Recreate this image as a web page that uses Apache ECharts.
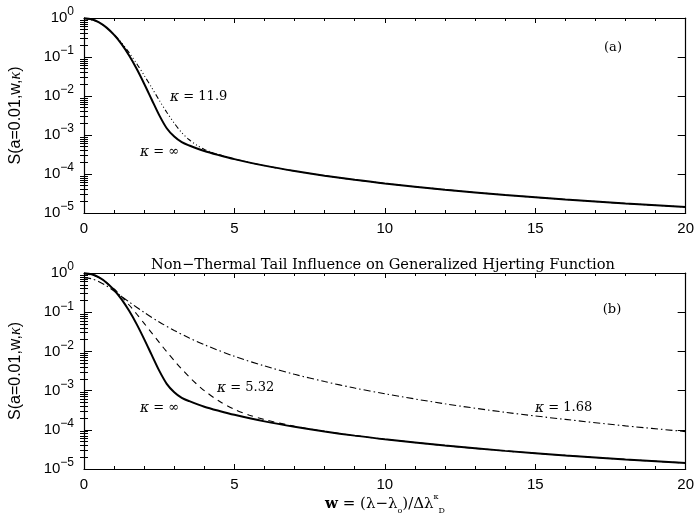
<!DOCTYPE html>
<html><head><meta charset="utf-8">
<script src="https://cdn.jsdelivr.net/npm/echarts@6/dist/echarts.min.js"></script>
<style>html,body{margin:0;padding:0;background:#fff}#c{width:697px;height:516px}</style>
</head><body><div id="c"></div>
<script>
// kappa = infinity (Voigt, a = 0.01)
const wInf = [0, 0.25, 0.5, 0.75, 1, 1.25, 1.5, 1.75, 2, 2.25, 2.5, 2.75, 3, 3.25, 3.5, 4, 4.5, 5, 6, 7, 8, 9, 10, 12, 14, 16, 18, 20];
const sInf = [0.989, 0.930, 0.772, 0.567, 0.369, 0.213, 0.1086, 0.0497, 0.0206, 0.00813, 0.00323, 0.00149, 0.00091, 0.000654, 0.000537, 0.000388, 0.000302, 0.000241, 0.000164, 0.000119, 0.0000903, 0.0000710, 0.0000573, 0.0000396, 0.0000290, 0.0000222, 0.0000175, 0.0000142];
// kappa = 11.9 (panel a)
const wK119 = [0, 0.5, 1, 1.25, 1.5, 1.75, 2, 2.25, 2.5, 2.75, 3, 3.25, 3.5, 3.75, 4, 4.5, 5, 6, 7, 8, 9, 10, 12, 14, 16, 18, 20];
const sK119 = [0.978, 0.766, 0.380, 0.231, 0.129, 0.068, 0.0338, 0.0164, 0.0078, 0.00384, 0.00201, 0.00115, 0.000755, 0.000545, 0.000427, 0.000309, 0.000242, 0.000164, 0.000119, 0.0000903, 0.0000710, 0.0000573, 0.0000396, 0.0000290, 0.0000222, 0.0000175, 0.0000142];
// kappa = 5.32 (panel b)
const wK532 = [0, 0.5, 1, 1.25, 1.5, 1.75, 2, 2.25, 2.5, 2.75, 3, 3.25, 3.5, 3.75, 4, 4.5, 5, 5.5, 6, 7, 8, 9, 10, 12, 14, 16, 18, 20];
const sK532 = [0.966, 0.759, 0.391, 0.250, 0.1527, 0.090, 0.0518, 0.0297, 0.0170, 0.0098, 0.00582, 0.00353, 0.00223, 0.00146, 0.000995, 0.000533, 0.000334, 0.000236, 0.000182, 0.000123, 0.0000915, 0.0000712, 0.0000574, 0.0000396, 0.0000290, 0.0000222, 0.0000175, 0.0000142];
// kappa = 1.68 (panel b)
const wK168 = [0, 0.25, 0.5, 0.75, 1, 1.25, 1.5, 2, 2.5, 3, 3.5, 4, 5, 6, 7, 8, 9, 10, 12, 14, 16, 18, 20];
const sK168 = [0.750, 0.715, 0.602, 0.468, 0.347, 0.252, 0.183, 0.0985, 0.0564, 0.0343, 0.0220, 0.0148, 0.0075, 0.00425, 0.00260, 0.00170, 0.00116, 0.00083, 0.00046, 0.00028, 0.000184, 0.000126, 0.000090];

const xRange = [0, 20];
const yRange = [1e-5, 1];

const zip = (w, s) => w.map((x, i) => [x, s[i]]);
const minorVals = [];
for (let e = -5; e < 0; e++) for (let k = 2; k <= 9; k++) minorVals.push(Number((k * Math.pow(10, e)).toPrecision(3)));

const grids = [
  {left: 79, top: 18, width: 607, height: 195},
  {left: 79, top: 273, width: 607, height: 196}
];
const black = '#000';
const xAxes = [], yAxes = [];
grids.forEach((g, gi) => {
  ['bottom', 'top'].forEach(pos => {
    xAxes.push({
      gridIndex: gi, type: 'value', min: xRange[0], max: xRange[1], interval: 5, position: pos,
      axisLine: {show: true, onZero: false, lineStyle: {color: black, width: 1.2}},
      axisTick: {show: true, inside: true, length: 5, lineStyle: {color: black, width: 1}},
      minorTick: {show: true, splitNumber: 5, length: 3, lineStyle: {color: black, width: 1}},
      splitLine: {show: false}, minorSplitLine: {show: false},
      axisLabel: {show: pos === 'bottom', margin: 8, fontSize: 15, color: black, fontFamily: 'Liberation Sans'}
    });
  });
  ['left', 'right'].forEach(pos => {
    yAxes.push({
      gridIndex: gi, type: 'log', logBase: 10, min: yRange[0], max: yRange[1], splitNumber: 5, position: pos,
      axisLine: {show: true, onZero: false, lineStyle: {color: black, width: 1.2}},
      axisTick: {show: true, inside: true, length: 8, lineStyle: {color: black, width: 1}},
      splitLine: {show: false},
      name: pos === 'left' ? '{n|S(a=0.01,w,}{k|κ}{n|)}' : '',
      nameLocation: 'middle', nameGap: 60, nameRotate: 90,
      nameTextStyle: {rich: {n: {fontSize: 16, fontFamily: 'Liberation Sans', color: black}, k: {fontSize: 16, fontFamily: 'Liberation Serif', fontStyle: 'italic', color: black}}},
      axisLabel: {
        show: pos === 'left', margin: 10, color: black,
        formatter: v => {
          const e = Math.round(Math.log10(v));
          return '{b|10}{s|' + (e < 0 ? '−' + (-e) : e) + '}';
        },
        rich: {
          b: {fontSize: 15, fontFamily: 'Liberation Sans', lineHeight: 24, verticalAlign: 'middle', color: black},
          s: {fontSize: 12, fontFamily: 'Liberation Sans', lineHeight: 12, verticalAlign: 'top', color: black}
        }
      }
    });
    yAxes.push({
      gridIndex: gi, type: 'log', logBase: 10, min: yRange[0], max: yRange[1], position: pos,
      axisLine: {show: false},
      axisTick: {show: true, inside: true, length: 4, customValues: minorVals, lineStyle: {color: black, width: 1}},
      splitLine: {show: false},
      axisLabel: {show: false}
    });
  });
});

const thin = d => ({color: black, width: 1.1, type: d});
const series = [
  {name: 'k11.9', type: 'line', xAxisIndex: 0, yAxisIndex: 0, data: zip(wK119, sK119), showSymbol: false, smooth: 0.3, lineStyle: thin([5, 2.5, 1, 2.5, 1, 2.5, 1, 2.5])},
  {name: 'inf a', type: 'line', xAxisIndex: 0, yAxisIndex: 0, data: zip(wInf, sInf), showSymbol: false, smooth: 0.3, lineStyle: {color: black, width: 2}},
  {name: 'k1.68', type: 'line', xAxisIndex: 2, yAxisIndex: 4, data: zip(wK168, sK168), showSymbol: false, smooth: 0.3, lineStyle: thin([7, 3, 1.5, 3])},
  {name: 'k5.32', type: 'line', xAxisIndex: 2, yAxisIndex: 4, data: zip(wK532, sK532), showSymbol: false, smooth: 0.3, lineStyle: thin([6, 5])},
  {name: 'inf b', type: 'line', xAxisIndex: 2, yAxisIndex: 4, data: zip(wInf, sInf), showSymbol: false, smooth: 0.3, lineStyle: {color: black, width: 2}}
];

const kRich = {
  k: {fontFamily: 'DejaVu Serif', fontStyle: 'italic', fontSize: 14, fill: black},
  t: {fontFamily: 'DejaVu Serif', fontSize: 13, fill: black}
};
function label(x, y, txt, align) {
  return {type: 'text', x: x, y: y, silent: true, z: 100,
    style: {text: txt, align: align || 'left', verticalAlign: 'middle', rich: kRich, fill: black, fontFamily: 'DejaVu Serif', fontSize: 13}};
}
const graphic = [
  {type: 'text', x: 383, y: 265, style: {text: 'Non−Thermal Tail Influence on Generalized Hjerting Function', align: 'center', verticalAlign: 'middle', fontFamily: 'DejaVu Serif', fontSize: 14.6, fill: black}},
  label(613, 48, '{t|(a)}', 'center'),
  label(612, 310, '{t|(b)}', 'center'),
  label(170, 97, '{k|κ}{t| = 11.9}'),
  label(140, 152, '{k|κ}{t| = ∞}'),
  label(217, 388, '{k|κ}{t| = 5.32}'),
  label(140, 408, '{k|κ}{t| = ∞}'),
  label(535, 408, '{k|κ}{t| = 1.68}'),
  {type: 'text', x: 385, y: 504, style: {
    text: '{w|w}{t| = (λ−λ}{sub|o}{t|)/Δλ}{sup|κ}{sub|D}', align: 'center', verticalAlign: 'middle',
    rich: {
      w: {fontFamily: 'DejaVu Serif', fontWeight: 'bold', fontSize: 15, lineHeight: 22, verticalAlign: 'middle', fill: black},
      t: {fontFamily: 'DejaVu Serif', fontSize: 15, lineHeight: 22, verticalAlign: 'middle', fill: black},
      sub: {fontFamily: 'DejaVu Serif', fontSize: 8, lineHeight: 8, verticalAlign: 'bottom', fill: black},
      sup: {fontFamily: 'DejaVu Serif', fontSize: 8, lineHeight: 8, verticalAlign: 'top', fill: black}
    }}}
];

const chart = echarts.init(document.getElementById('c'), null, {renderer: 'canvas'});
chart.setOption({
  backgroundColor: '#fff',
  animation: false,
  grid: grids,
  xAxis: xAxes,
  yAxis: yAxes,
  series: series,
  graphic: graphic
});
</script></body></html>
